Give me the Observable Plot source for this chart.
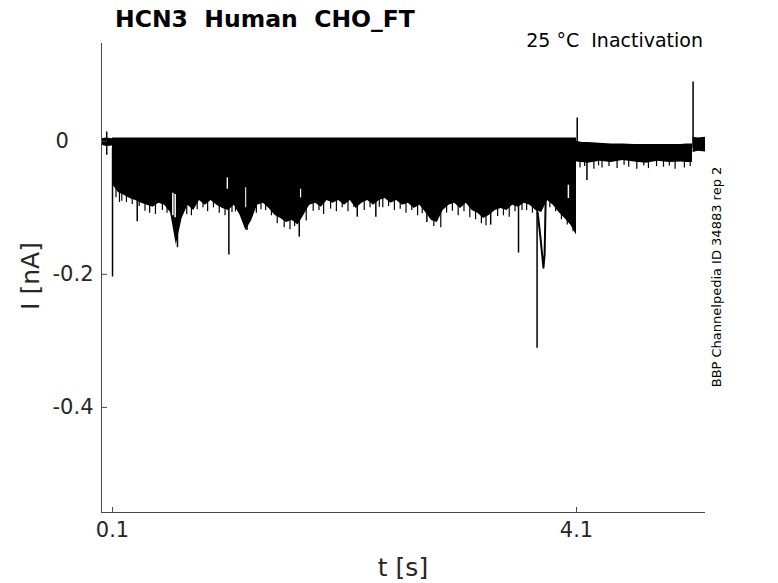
<!DOCTYPE html>
<html><head><meta charset="utf-8">
<script src="https://cdn.jsdelivr.net/npm/d3@7"></script>
<script src="https://cdn.jsdelivr.net/npm/@observablehq/plot@0.6"></script>
<style>body{margin:0;background:#fff;} #c{position:relative;width:778px;height:583px;}</style>
</head><body><div id="c"></div>
<script>
// ---- data ----
const xTicks = [0.1, 4.1];
const yTicks = [0, -0.2, -0.4];
const xDomain = [0.005, 5.212];
const yDomain = [-0.558, 0.147];

// dense band, 0.1 .. 4.1 s (top level and lower envelope)
const bandTop = 0.005;
const bandT = [0.10,0.15,0.20,0.25,0.30,0.35,0.40,0.45,0.50,0.55,0.60,0.65,0.70,0.75,0.80,0.85,0.90,0.95,1.00,1.05,
  1.10,1.15,1.20,1.25,1.30,1.35,1.40,1.45,1.50,1.55,1.60,1.65,1.70,1.75,1.80,1.85,1.90,1.95,2.00,2.05,
  2.10,2.15,2.20,2.25,2.30,2.35,2.40,2.45,2.50,2.55,2.60,2.65,2.70,2.75,2.80,2.85,2.90,2.95,3.00,3.05,
  3.10,3.15,3.20,3.25,3.30,3.35,3.40,3.45,3.50,3.55,3.60,3.65,3.70,3.75,3.80,3.85,3.90,3.95,4.00,4.05,4.10];
const bandLow = [-0.065,-0.077,-0.081,-0.086,-0.089,-0.093,-0.096,-0.099,-0.093,-0.096,-0.107,-0.156,-0.116,-0.096,-0.104,-0.089,-0.096,-0.089,-0.096,-0.101,
  -0.104,-0.096,-0.111,-0.134,-0.119,-0.096,-0.093,-0.101,-0.111,-0.116,-0.122,-0.119,-0.126,-0.111,-0.096,-0.093,-0.099,-0.089,-0.093,-0.089,
  -0.096,-0.089,-0.101,-0.093,-0.089,-0.096,-0.089,-0.086,-0.093,-0.089,-0.096,-0.093,-0.101,-0.096,-0.107,-0.119,-0.122,-0.104,-0.096,-0.093,
  -0.101,-0.093,-0.104,-0.108,-0.116,-0.111,-0.104,-0.101,-0.104,-0.096,-0.099,-0.093,-0.096,-0.104,-0.107,-0.089,-0.096,-0.107,-0.116,-0.126,-0.141];

// before the step
const preT = [0.005, 0.05, 0.1];
const preTop = [0.004, 0.005, 0.004];
const preLow = [-0.006, -0.008, -0.007];

// after 4.1 s
const postT = [4.10,4.15,4.20,4.30,4.40,4.50,4.60,4.70,4.80,4.90,5.00,5.05,5.10];
const postTop = [0.000,-0.002,-0.002,-0.003,-0.004,-0.004,-0.005,-0.005,-0.005,-0.005,-0.005,-0.004,-0.004];
const postLow = [-0.031,-0.032,-0.033,-0.030,-0.032,-0.029,-0.031,-0.033,-0.030,-0.032,-0.031,-0.032,-0.032];

// tail after the last spike
const tailT = [5.105, 5.15, 5.212];
const tailTop = [0.006, 0.005, 0.006];
const tailLow = [-0.017, -0.015, -0.016];

// large downward spikes
const bigT = [0.05, 0.1, 0.313, 0.66, 1.103, 1.26, 1.71, 2.21, 2.37, 2.81, 3.36, 3.60, 3.76, 4.19];
const bigV = [-0.021, -0.204, -0.121, -0.160, -0.171, -0.134, -0.144, -0.114, -0.114, -0.122, -0.126, -0.168, -0.311, -0.059];

// upward spikes
const upT = [0.05, 4.106, 5.105];
const upV = [0.014, 0.035, 0.089];

// small noise spikes along the lower edge
const smallT = [0.13,0.16,0.18,0.22,0.27,0.33,0.38,0.42,0.47,0.53,0.57,0.74,0.78,0.83,0.88,0.92,0.97,1.02,1.07,1.13,1.16,1.34,1.38,1.42,1.47,
  1.52,1.58,1.63,1.67,1.77,1.83,1.88,1.92,1.98,2.03,2.08,2.13,2.18,2.27,2.32,2.40,2.43,2.48,2.53,2.58,2.63,2.68,2.73,2.77,2.87,
  2.93,2.98,3.03,3.08,3.13,3.18,3.23,3.28,3.32,3.42,3.47,3.52,3.57,3.63,3.67,3.72,3.87,3.92,3.97,4.02,4.07,
  4.13,4.17,4.25,4.29,4.32,4.38,4.45,4.51,4.55,4.62,4.68,4.72,4.79,4.85,4.90,4.95,5.03,5.08];
const smallV = [-0.085,-0.092,-0.090,-0.092,-0.095,-0.098,-0.105,-0.108,-0.110,-0.104,-0.108,-0.110,-0.112,-0.103,-0.100,-0.106,-0.100,-0.108,-0.112,-0.107,-0.106,-0.108,-0.103,-0.104,-0.112,
  -0.124,-0.130,-0.133,-0.128,-0.120,-0.105,-0.104,-0.110,-0.102,-0.106,-0.100,-0.106,-0.099,-0.104,-0.100,-0.099,-0.100,-0.098,-0.104,-0.102,-0.108,-0.104,-0.112,-0.109,-0.128,
  -0.130,-0.108,-0.105,-0.112,-0.106,-0.115,-0.118,-0.124,-0.127,-0.113,-0.112,-0.114,-0.106,-0.104,-0.104,-0.108,-0.100,-0.106,-0.118,-0.126,-0.136,
  -0.040,-0.038,-0.042,-0.037,-0.040,-0.038,-0.041,-0.036,-0.039,-0.042,-0.037,-0.041,-0.038,-0.039,-0.037,-0.042,-0.040,-0.038];

// excursion next to the deepest spike
const dipT = [3.765, 3.79, 3.815, 3.825, 3.835];
const dipV = [-0.107, -0.146, -0.190, -0.170, -0.080];

// white gaps between the lower traces
const gapT  = [0.62, 0.64, 1.09, 1.25, 1.72, 4.03];
const gapV1 = [-0.078,-0.080,-0.055,-0.070,-0.072,-0.066];
const gapV2 = [-0.112,-0.115,-0.072,-0.100,-0.085,-0.086];

// ---- build tables ----
const bandRows = [];
preT.forEach((t,i)=>bandRows.push({seg:"pre", t, top:preTop[i], low:preLow[i]}));
bandT.forEach((t,i)=>bandRows.push({seg:"main", t, top:bandTop, low:bandLow[i]}));
postT.forEach((t,i)=>bandRows.push({seg:"post", t, top:postTop[i], low:postLow[i]}));
tailT.forEach((t,i)=>bandRows.push({seg:"tail", t, top:tailTop[i], low:tailLow[i]}));
const bigRows = bigT.map((t,i)=>({t, v:bigV[i]}));
const upRows = upT.map((t,i)=>({t, v:upV[i]}));
const smallRows = smallT.map((t,i)=>({t, v:smallV[i]}));
const dipRows = dipT.map((t,i)=>({t, v:dipV[i]}));
const gapRows = gapT.map((t,i)=>({t, a:gapV1[i], b:gapV2[i]}));

const axisColor = "#4a4a4a";
const xTickLen = 0.052, yTickLen = 0.0075;

const svg = Plot.plot({
  width: 778, height: 583,
  marginLeft: 101, marginRight: 73, marginTop: 43, marginBottom: 71,
  style: {fontFamily: "DejaVu Sans", background: "white", color: "#222"},
  x: {domain: xDomain, axis: null},
  y: {domain: yDomain, axis: null},
  marks: [
    Plot.areaY(bandRows, {x: "t", y1: "top", y2: "low", z: "seg", fill: "black", curve: "linear"}),
    Plot.ruleX(smallRows, {x: "t", y1: -0.01, y2: "v", stroke: "black", strokeWidth: 1.2}),
    Plot.ruleX(gapRows, {x: "t", y1: "a", y2: "b", stroke: "white", strokeWidth: 1.5}),
    Plot.ruleX(bigRows, {x: "t", y1: -0.01, y2: "v", stroke: "black", strokeWidth: 1.5}),
    Plot.ruleX(upRows, {x: "t", y1: -0.01, y2: "v", stroke: "black", strokeWidth: 1.5}),
    Plot.line(dipRows, {x: "t", y: "v", stroke: "black", strokeWidth: 2}),
    // axes
    Plot.ruleX([xDomain[0]], {stroke: axisColor, strokeWidth: 1}),
    Plot.ruleY([yDomain[0]], {stroke: axisColor, strokeWidth: 1}),
    Plot.ruleX(xTicks, {x: d=>d, y1: yDomain[0], y2: yDomain[0] + yTickLen, stroke: axisColor}),
    Plot.ruleY(yTicks, {y: d=>d, x1: xDomain[0], x2: xDomain[0] + xTickLen, stroke: axisColor}),
    Plot.text(xTicks, {x: d=>d, frameAnchor: "bottom", dy: 24, text: d=>String(d), fontSize: 21, fill: "#262626"}),
    Plot.text(yTicks.filter(v=>v!==0), {y: d=>d, frameAnchor: "left", dx: -8, textAnchor: "end", text: d=>String(d), fontSize: 21, fill: "#262626"}),
    Plot.text(yTicks.filter(v=>v===0), {y: d=>d, frameAnchor: "left", dx: -46, textAnchor: "start", text: d=>String(d), fontSize: 21, fill: "#262626"})
  ]
});

const s = d3.select(svg);
s.append("text").attr("x", 115).attr("y", 27).attr("font-size", 23.5).attr("font-weight", "bold")
  .attr("text-anchor", "start").attr("fill", "black").text("HCN3  Human  CHO_FT");
s.append("text").attr("x", 703).attr("y", 47).attr("font-size", 19).attr("text-anchor", "end")
  .attr("fill", "black").text("25 °C  Inactivation");
s.append("text").attr("transform", "translate(39,276) rotate(-90)").attr("font-size", 25)
  .attr("text-anchor", "middle").attr("fill", "#262626").text("I [nA]");
s.append("text").attr("x", 403).attr("y", 576).attr("font-size", 25)
  .attr("text-anchor", "middle").attr("fill", "#262626").text("t [s]");
s.append("text").attr("transform", "translate(721,277) rotate(-90)").attr("font-size", 13)
  .attr("text-anchor", "middle").attr("fill", "black").text("BBP Channelpedia ID 34883 rep 2");

document.getElementById("c").appendChild(svg);
</script>
</body></html>
